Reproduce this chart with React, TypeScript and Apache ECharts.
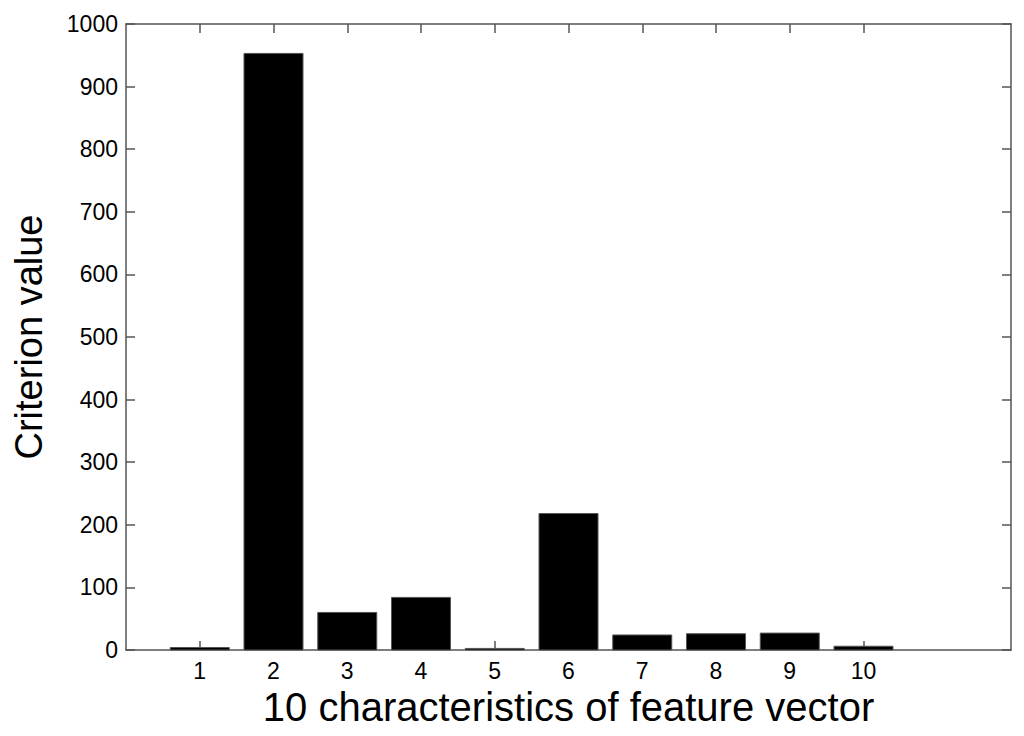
import React, { useEffect, useRef } from "react";
import * as echarts from "echarts";

const categories = [1, 2, 3, 4, 5, 6, 7, 8, 9, 10];
const criterionValues = [4, 953, 60, 84, 2.5, 218, 24, 26, 27, 6];
const yTicks = [0, 100, 200, 300, 400, 500, 600, 700, 800, 900, 1000];

const FONT = "'Liberation Sans', Arial, Helvetica, sans-serif";
const AXIS_COLOR = "#555555";

export default function App() {
  const ref = useRef<HTMLDivElement>(null);
  useEffect(() => {
    if (!ref.current) return;
    const chart = echarts.init(ref.current, null, { renderer: "svg" });
    const data = categories.map((c, i) => [c, criterionValues[i]]);
    const axisLine = { show: true, onZero: false, lineStyle: { color: AXIS_COLOR, width: 1.5 } };
    const tickStyle = { inside: true, length: 9, lineStyle: { color: AXIS_COLOR, width: 1.5 } };
    chart.setOption({
      animation: false,
      backgroundColor: "#ffffff",
      textStyle: { fontFamily: FONT },
      grid: { left: 126, right: 13, top: 24, bottom: 86, containLabel: false },
      xAxis: [
        {
          type: "value",
          min: 0,
          max: 12,
          interval: 1,
          position: "bottom",
          axisLine,
          axisTick: { ...tickStyle, customValues: categories },
          splitLine: { show: false },
          axisLabel: {
            customValues: categories,
            color: "#000",
            fontSize: 23,
            fontFamily: FONT,
            margin: 9,
          },
          name: "10 characteristics of feature vector",
          nameLocation: "middle",
          nameGap: 37,
          nameTextStyle: { color: "#000", fontSize: 40, fontFamily: FONT },
        },
        {
          type: "value",
          min: 0,
          max: 12,
          interval: 1,
          position: "top",
          axisLine,
          axisTick: { ...tickStyle, customValues: categories },
          splitLine: { show: false },
          axisLabel: { show: false },
        },
      ],
      yAxis: [
        {
          type: "value",
          min: 0,
          max: 1000,
          interval: 100,
          position: "left",
          axisLine,
          axisTick: { ...tickStyle, customValues: yTicks },
          splitLine: { show: false },
          axisLabel: {
            customValues: yTicks,
            formatter: (v: number) => String(v),
            color: "#000",
            fontSize: 23,
            fontFamily: FONT,
            margin: 8,
          },
          name: "Criterion value",
          nameLocation: "middle",
          nameGap: 78,
          nameTextStyle: { color: "#000", fontSize: 38, fontFamily: FONT },
        },
        {
          type: "value",
          min: 0,
          max: 1000,
          interval: 100,
          position: "right",
          axisLine,
          axisTick: { ...tickStyle, customValues: yTicks },
          splitLine: { show: false },
          axisLabel: { show: false },
        },
      ],
      series: [
        {
          type: "custom",
          xAxisIndex: 0,
          yAxisIndex: 0,
          data,
          renderItem: (params: any, api: any) => {
            const x = api.value(0);
            const y = api.value(1);
            const top = api.coord([x, y]);
            const base = api.coord([x, 0]);
            const w = api.size([0.8, 0])[0];
            return {
              type: "rect",
              shape: { x: top[0] - w / 2, y: top[1], width: w, height: base[1] - top[1] },
              style: { fill: "#000000", stroke: "#555555", lineWidth: 1 },
            };
          },
        },
      ],
    });
    return () => chart.dispose();
  }, []);
  return <div ref={ref} style={{ width: 1024, height: 736, position: "absolute", left: 0, top: 0 }} />;
}
